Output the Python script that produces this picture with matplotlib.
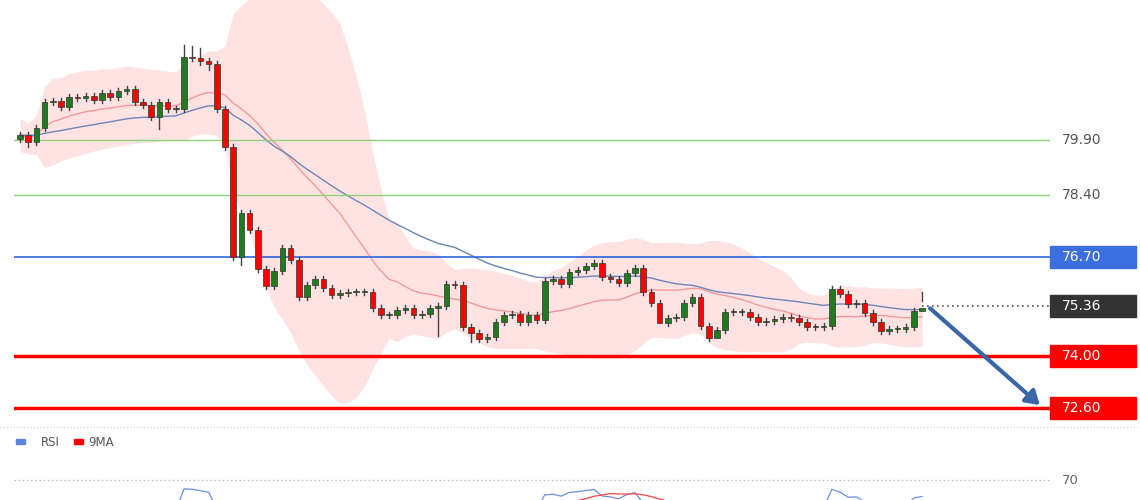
import numpy as np
import pandas as pd
import matplotlib.pyplot as plt
from matplotlib.patches import Rectangle

# closes, in pixel rows, turned into prices below
close_px = [135, 142, 128, 102, 101, 107, 97, 98, 96, 100, 93, 97, 91, 89, 102, 105, 117, 102, 109, 109,
            57, 58, 61, 64, 109, 147, 257, 213, 230, 269, 286, 271, 248, 260, 297, 285, 279,
            288, 295, 293, 292, 292, 292, 308, 315, 315, 310, 308, 315, 314, 308, 306, 284, 285, 327,
            333, 339, 337, 322, 315, 314, 322, 315, 320, 281, 279, 284, 272, 270, 266, 263, 277, 279, 283,
            273, 268, 292, 303, 323, 318, 317, 303, 297, 326, 338, 330, 312, 312, 312, 317, 322, 321,
            319, 317, 318, 322, 327, 327, 326, 289, 294, 304, 303, 313, 322, 331, 329, 329, 327, 311, 308]
closes = [round(79.90 - (y - 140) / 36.67, 3) for y in close_px]
first_open = 79.92
# candles with long wicks (index: price)
long_lows = {1: 79.7, 17: 80.2, 22: 81.95, 23: 81.8, 27: 76.5, 51: 74.55, 55: 74.4, 78: 75.2, 85: 74.6, 110: 75.5}
long_highs = {20: 82.5, 21: 82.45, 22: 82.4, 110: 75.75}
levels = [79.90, 78.40, 76.70, 74.00, 72.60]
level_colors = ['#8fd17a', '#8fd17a', '#3b6fe0', '#ff0000', '#ff0000']
level_widths = [1.0, 1.0, 1.3, 2.5, 2.5]
last_price = 75.36

W, H = 1140, 500
fig = plt.figure(figsize=(W / 100, H / 100), dpi=100)
fig.patch.set_facecolor('white')
sp = 8.2
x0, x1 = 14, 1050


def xlim_px():
    return ((x0 - 20) / sp, (x1 - 20) / sp)


ax = fig.add_axes([x0 / W, 1 - 425 / H, (x1 - x0) / W, 425 / H])
ax.set_xlim(*xlim_px())
ytop = 79.90 + 140 / 36.67
ybot = 79.90 - (425 - 140) / 36.67
ax.set_ylim(ybot, ytop)
ax.axis('off')

c = pd.Series(closes)
n = len(c)
idx = np.arange(n)
mid = c.rolling(20, min_periods=1).mean()
sd = c.rolling(20, min_periods=2).std().fillna(0.15)
slow = c.ewm(span=40, adjust=False).mean()
ax.fill_between(idx, mid - 2 * sd - 0.15, mid + 2 * sd + 0.15, color='#ffdada', alpha=0.75, lw=0, zorder=1)
ax.plot(idx, mid, color='#f49a9a', lw=1, zorder=2)
ax.plot(idx, slow, color='#6a86b8', lw=1, zorder=2)

for lv, col, lw in zip(levels, level_colors, level_widths):
    ax.axhline(lv, color=col, lw=lw, zorder=3)

opens = [first_open] + closes[:-1]
for i in range(n):
    o, cl = opens[i], closes[i]
    up = cl >= o
    hi = long_highs.get(i, max(o, cl) + 0.08)
    lo = long_lows.get(i, min(o, cl) - 0.08)
    ax.plot([i, i], [lo, hi], color='#444444', lw=1, zorder=4)
    h = max(abs(cl - o), 0.03)
    ax.add_patch(Rectangle((i - 0.35, min(o, cl)), 0.7, h,
                           facecolor='#1e7b1e' if up else '#ff0000',
                           edgecolor='#333333', lw=0.5, zorder=5))

ax.plot([n - 1, (x1 - 20) / sp], [last_price, last_price], color='#555555', lw=1.2, ls=(0, (1, 2)), zorder=3)
ax.annotate('', xy=((1042 - 20) / sp, 72.62), xytext=((928 - 20) / sp, 75.36),
            arrowprops=dict(arrowstyle='-|>,head_length=0.8,head_width=0.5', color='#3a66a8', lw=3),
            zorder=6)

# right-side labels
for lv, txt, fc, tc in [(79.90, '79.90', 'none', '#555555'), (78.40, '78.40', 'none', '#555555'),
                        (76.70, '76.70', '#3b6fe0', 'white'), (75.36, '75.36', '#333333', 'white'),
                        (74.00, '74.00', '#ff0000', 'white'), (72.60, '72.60', '#ff0000', 'white')]:
    yf = 1 - (140 + (79.90 - lv) * 36.67) / H
    if fc != 'none':
        fig.add_artist(Rectangle((1050 / W, yf - 11 / H), 86 / W, 22 / H, color=fc))
    fig.text(1062 / W, yf, txt, color=tc, fontsize=10, va='center', ha='left')

fig.add_artist(plt.Line2D([0, 1], [1 - 427 / H, 1 - 427 / H], color='#cccccc', lw=0.8, ls=(0, (1, 2))))

# RSI panel
delta = c.diff()
gain = delta.clip(lower=0).ewm(alpha=1 / 14, adjust=False).mean()
loss = (-delta.clip(upper=0)).ewm(alpha=1 / 14, adjust=False).mean()
rsi = 100 - 100 / (1 + gain / loss.replace(0, 1e-9))
rsi_ma = rsi.rolling(9, min_periods=1).mean()
ax2 = fig.add_axes([x0 / W, 0, (x1 - x0) / W, 65 / H])
ax2.set_xlim(*xlim_px())
ax2.set_ylim(50, 115)
ax2.axis('off')
ax2.axhline(70, color='#bbbbbb', lw=1, ls=(0, (1, 2)))
ax2.plot(idx[2:], rsi[2:], color='#6d8ee8', lw=0.9)
ax2.plot(idx[2:], rsi_ma[2:], color='#ff4444', lw=0.9)
fig.text(1062 / W, 1 - 480 / H, '70', fontsize=9.5, color='#666666', va='center')

fig.add_artist(Rectangle((16 / W, 1 - 444 / H), 9 / W, 5 / H, color='#5b84e0'))
fig.text(41 / W, 1 - 442 / H, 'RSI', fontsize=8.5, color='#555555', va='center')
fig.add_artist(Rectangle((74 / W, 1 - 444 / H), 9 / W, 5 / H, color='#ff0000'))
fig.text(88 / W, 1 - 442 / H, '9MA', fontsize=8.5, color='#555555', va='center')

fig.savefig('out.png', dpi=100)
